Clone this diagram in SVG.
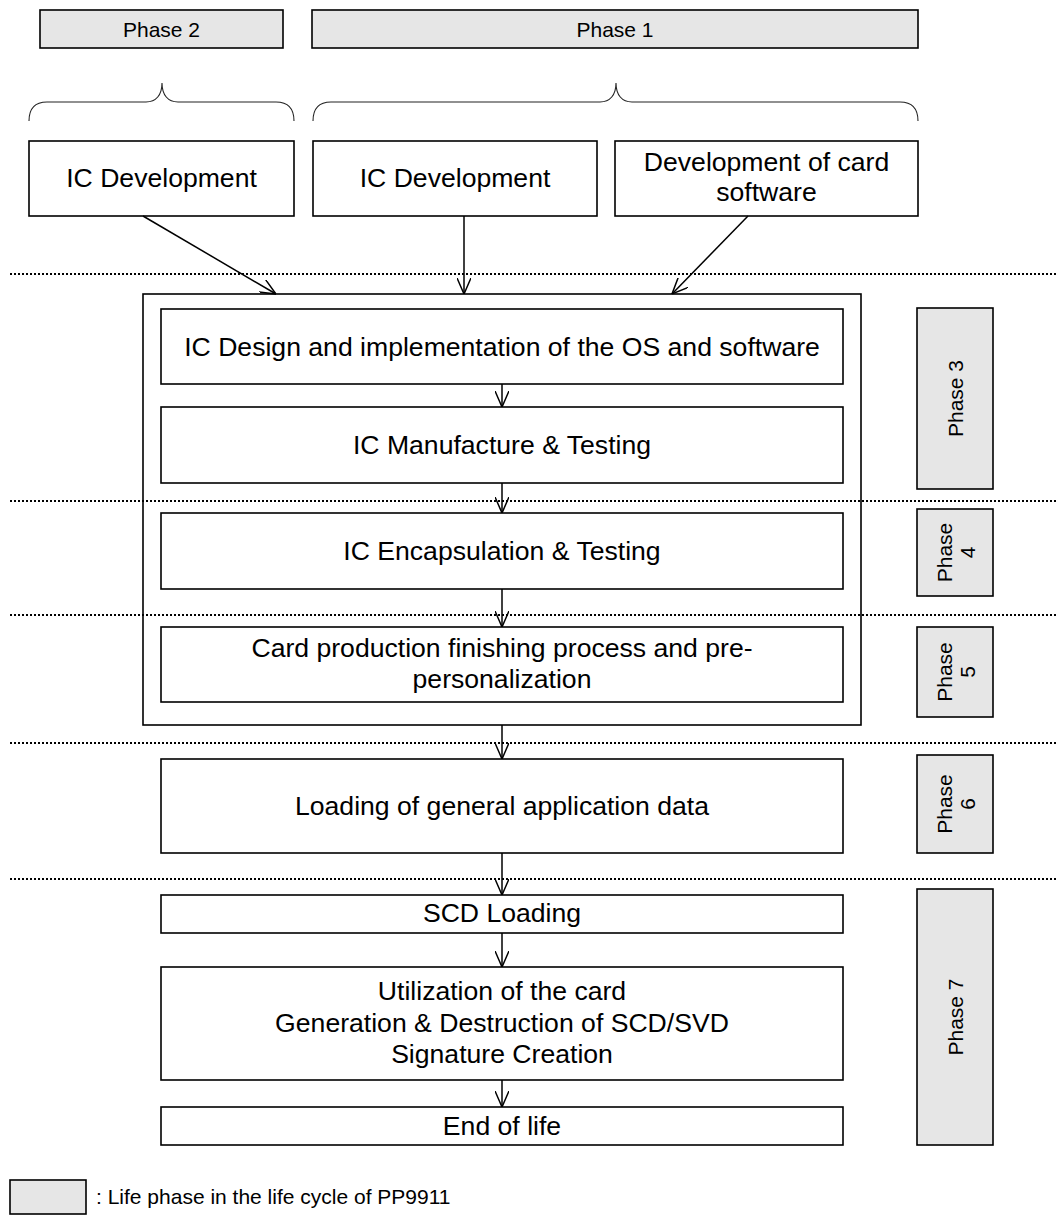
<svg xmlns="http://www.w3.org/2000/svg" width="1056" height="1216" viewBox="0 0 1056 1216">
  <style>
    .box { fill: #ffffff; stroke: #000000; stroke-width: 1.6; }
    .phase { fill: #e6e6e6; stroke: #000000; stroke-width: 1.6; }
    .frame { fill: none; stroke: #000000; stroke-width: 1.6; }
    .brace { fill: none; stroke: #222222; stroke-width: 1.1; }
    .sep { stroke: #000000; stroke-width: 2; stroke-dasharray: 2 2; fill: none; }
    .link { stroke: #000000; stroke-width: 1.5; fill: none; marker-end: url(#open-arrow); }
    .t { font-family: "Liberation Sans", Arial, Helvetica, sans-serif; font-size: 26.6px; fill: #000000; text-anchor: middle; }
    .pl { font-family: "Liberation Sans", Arial, Helvetica, sans-serif; font-size: 21px; fill: #000000; text-anchor: middle; }
    .legend { font-family: "Liberation Sans", Arial, Helvetica, sans-serif; font-size: 21px; fill: #000000; }
  </style>
  <defs>
    <marker id="open-arrow" viewBox="0 0 16 14" refX="16" refY="7" markerWidth="16" markerHeight="14" markerUnits="userSpaceOnUse" orient="auto">
      <path d="M0,0 L16,7 L0,14" fill="none" stroke="#000000" stroke-width="1.5"/>
    </marker>
  </defs>

  <rect width="1056" height="1216" fill="#ffffff"/>

  <!-- phase separators -->
  <g id="separators">
    <line class="sep" x1="10" y1="274" x2="1056" y2="274"/>
    <line class="sep" x1="10" y1="501" x2="1056" y2="501"/>
    <line class="sep" x1="10" y1="615" x2="1056" y2="615"/>
    <line class="sep" x1="10" y1="743" x2="1056" y2="743"/>
    <line class="sep" x1="10" y1="879" x2="1056" y2="879"/>
  </g>

  <!-- top phase headers -->
  <g id="phase2-header">
    <rect class="phase" x="40" y="10" width="243" height="38"/>
    <text class="pl" x="161.5" y="36.5">Phase 2</text>
  </g>
  <g id="phase1-header">
    <rect class="phase" x="312" y="10" width="606" height="38"/>
    <text class="pl" x="615" y="36.5">Phase 1</text>
  </g>

  <!-- braces -->
  <g id="braces">
    <path class="brace" d="M29,121 Q29,102 47,102 L146,102 C156,102 162,95 162,83 C162,95 168,102 178,102 L276,102 Q294,102 294,121"/>
    <path class="brace" d="M313,121 Q313,102 331,102 L600,102 C610,102 616,95 616,83 C616,95 622,102 632,102 L900,102 Q918,102 918,121"/>
  </g>

  <!-- development sources -->
  <g id="ic-dev-phase2">
    <rect class="box" x="29" y="141" width="265" height="75"/>
    <text class="t" x="161.5" y="187">IC Development</text>
  </g>
  <g id="ic-dev-phase1">
    <rect class="box" x="313" y="141" width="284" height="75"/>
    <text class="t" x="455" y="187">IC Development</text>
  </g>
  <g id="card-software-dev">
    <rect class="box" x="615" y="141" width="303" height="75"/>
    <text class="t" x="766.5" y="171">Development of card</text>
    <text class="t" x="766.5" y="201">software</text>
  </g>

  <!-- enclosing frame for phases 3 to 5 -->
  <g id="chip-frame">
    <rect class="frame" x="143" y="294" width="718" height="431"/>
  </g>

  <!-- process steps -->
  <g id="ic-design">
    <rect class="box" x="161" y="309" width="682" height="75"/>
    <text class="t" x="502" y="356">IC Design and implementation of the OS and software</text>
  </g>
  <g id="ic-manufacture">
    <rect class="box" x="161" y="407" width="682" height="76"/>
    <text class="t" x="502" y="454">IC Manufacture &amp; Testing</text>
  </g>
  <g id="ic-encapsulation">
    <rect class="box" x="161" y="513" width="682" height="76"/>
    <text class="t" x="502" y="560">IC Encapsulation &amp; Testing</text>
  </g>
  <g id="card-production">
    <rect class="box" x="161" y="627" width="682" height="75"/>
    <text class="t" x="502" y="657">Card production finishing process and pre-</text>
    <text class="t" x="502" y="688">personalization</text>
  </g>
  <g id="loading-general-data">
    <rect class="box" x="161" y="759" width="682" height="94"/>
    <text class="t" x="502" y="815">Loading of general application data</text>
  </g>
  <g id="scd-loading">
    <rect class="box" x="161" y="895" width="682" height="38"/>
    <text class="t" x="502" y="922">SCD Loading</text>
  </g>
  <g id="card-utilization">
    <rect class="box" x="161" y="967" width="682" height="113"/>
    <text class="t" x="502" y="1000">Utilization of the card</text>
    <text class="t" x="502" y="1032">Generation &amp; Destruction of SCD/SVD</text>
    <text class="t" x="502" y="1063">Signature Creation</text>
  </g>
  <g id="end-of-life">
    <rect class="box" x="161" y="1107" width="682" height="38"/>
    <text class="t" x="502" y="1135">End of life</text>
  </g>

  <!-- side phase markers -->
  <g id="phase3-marker">
    <rect class="phase" x="917" y="308" width="76" height="181"/>
    <text class="pl" transform="translate(955,398.5) rotate(-90)" x="0" y="7.5">Phase 3</text>
  </g>
  <g id="phase4-marker">
    <rect class="phase" x="917" y="509" width="76" height="87"/>
    <g transform="translate(955,552.5) rotate(-90)">
      <text class="pl" x="0" y="-3.5">Phase</text>
      <text class="pl" x="0" y="19.5">4</text>
    </g>
  </g>
  <g id="phase5-marker">
    <rect class="phase" x="917" y="627" width="76" height="90"/>
    <g transform="translate(955,672) rotate(-90)">
      <text class="pl" x="0" y="-3.5">Phase</text>
      <text class="pl" x="0" y="19.5">5</text>
    </g>
  </g>
  <g id="phase6-marker">
    <rect class="phase" x="917" y="755" width="76" height="98"/>
    <g transform="translate(955,804) rotate(-90)">
      <text class="pl" x="0" y="-3.5">Phase</text>
      <text class="pl" x="0" y="19.5">6</text>
    </g>
  </g>
  <g id="phase7-marker">
    <rect class="phase" x="917" y="889" width="76" height="256"/>
    <text class="pl" transform="translate(955,1017) rotate(-90)" x="0" y="7.5">Phase 7</text>
  </g>

  <!-- connectors -->
  <g id="connectors">
    <line class="link" x1="143" y1="216" x2="276" y2="294"/>
    <line class="link" x1="464" y1="216" x2="464" y2="294"/>
    <line class="link" x1="748" y1="216" x2="672" y2="294"/>
    <line class="link" x1="502" y1="384" x2="502" y2="407"/>
    <line class="link" x1="502" y1="483" x2="502" y2="513"/>
    <line class="link" x1="502" y1="589" x2="502" y2="627"/>
    <line class="link" x1="502" y1="725" x2="502" y2="759"/>
    <line class="link" x1="502" y1="853" x2="502" y2="895"/>
    <line class="link" x1="502" y1="933" x2="502" y2="967"/>
    <line class="link" x1="502" y1="1080" x2="502" y2="1107"/>
  </g>

  <!-- legend -->
  <g id="legend">
    <rect class="phase" x="10" y="1180" width="76" height="34"/>
    <text class="legend" x="96" y="1204">: Life phase in the life cycle of PP9911</text>
  </g>
</svg>
